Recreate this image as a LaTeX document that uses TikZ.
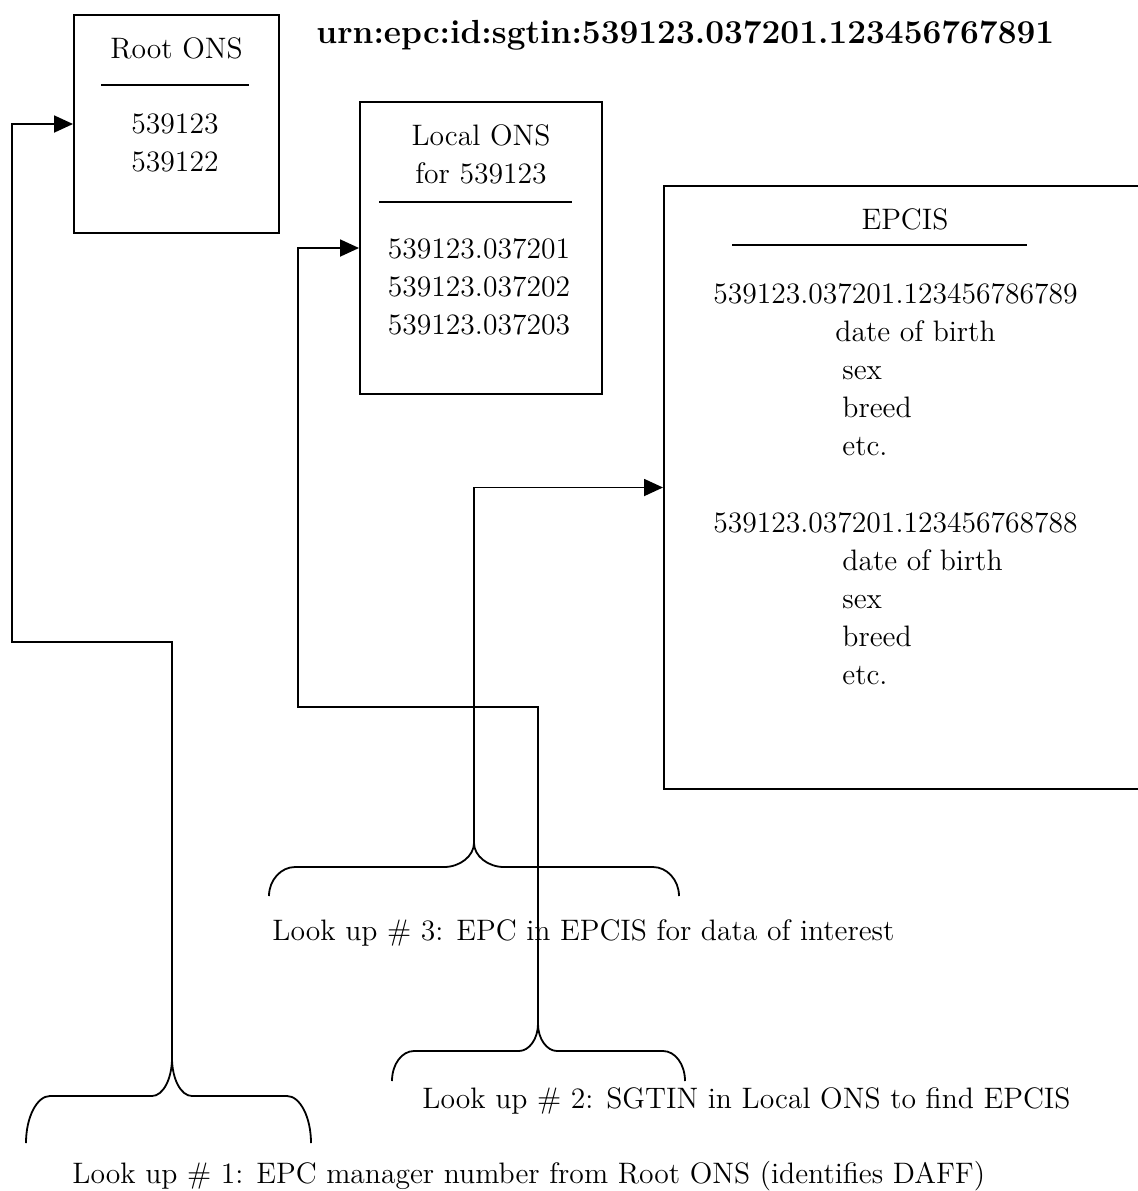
\documentclass[tikz,border=0pt]{standalone}
\usepackage{tikz}
\usetikzlibrary{arrows.meta}
\usetikzlibrary{positioning}
\tikzset{
  >={Triangle[length=9.5pt, width=8.5pt]},
  box/.style = {draw, line width=1pt, anchor=north west, inner sep=0pt},
  link/.style = {->, line width=0.9pt},
  brace/.style = {line width=0.9pt},
  rule/.style = {line width=1pt},
  txt/.style = {font=\fontsize{14.8}{19}\selectfont, inner sep=0pt},
}

\begin{document}
\begin{tikzpicture}[x=0.5pt, y=-0.5pt]
    \clip (0,0) rectangle (1138,1191);
    \node [box, minimum width=102.5pt, minimum height=109pt] (root) at (73,14) {};
    \node [box, minimum width=121pt, minimum height=146pt] (local) at (359,101) {};
    \node [box, minimum width=241pt, minimum height=301.5pt] (epcis) at (663,185) {};

    \node [txt, anchor=north, below=11.4pt of root.north] (roottitle) {Root ONS};
    \node [txt, anchor=north, align=center, below=11.8pt of local.north] (localtitle) {Local ONS\\for 539123};
    \node [txt, anchor=north, below=11.4pt of epcis.north] (epcistitle) {EPCIS};
    \draw [rule] (101,85) -- (249,85);
    \draw [rule] (379,202) -- (572,202);
    \draw [rule] (732,245) -- (1027,245);

    \node [txt, align=center, anchor=north] (rootnums) at (175,113) {539123\\539122};
    \node [txt, align=center, anchor=north] (localnums) at (479,238) {539123.037201\\539123.037202\\539123.037203};
    \node [txt, align=left, anchor=north west] (animalA) at (713,283) {539123.037201.123456786789\\\hspace*{61pt}date of birth\\\hspace*{64.5pt}sex\\\hspace*{64.5pt}breed\\\hspace*{64.5pt}etc.};
    \node [txt, align=left, anchor=north west] (animalB) at (713,512) {539123.037201.123456768788\\\hspace*{64.5pt}date of birth\\\hspace*{64.5pt}sex\\\hspace*{64.5pt}breed\\\hspace*{64.5pt}etc.};

    \node [anchor=base west, inner sep=0pt, font=\bfseries\fontsize{16.7}{20}\selectfont] (urn) at (316,43) {urn:epc:id:sgtin:539123.037201.123456767891};

    \node [txt, anchor=base west] (look3) at (272,940) {Look up \# 3: EPC in EPCIS for data of interest};
    \node [txt, anchor=base west] (look2) at (422,1108) {Look up \# 2: SGTIN in Local ONS to find EPCIS};
    \node [txt, anchor=base west] (look1) at (72,1183) {Look up \# 1: EPC manager number from Root ONS (identifies DAFF)};

    \coordinate (tip1) at (172,1058);
    \coordinate (tip2) at (538,1024);
    \coordinate (tip3) at (474,843);
    \coordinate (turn1) at (12,642);
    \coordinate (turn2) at (298,707);

    \draw [brace] (tip1) .. controls +(0,21) and +(11,0) .. ++(-20,38) -- ++(-102,0) .. controls +(-13,0) and +(0,-26) .. ++(-24,47);
    \draw [brace] (tip1) .. controls +(0,21) and +(-11,0) .. ++(20,38) -- ++(95,0) .. controls +(13,0) and +(0,-26) .. ++(24,47);
    \draw [brace] (tip2) .. controls +(0,15) and +(10,0) .. ++(-19,27) -- ++(-105,0) .. controls +(-12,0) and +(0,-17) .. ++(-22,30);
    \draw [brace] (tip2) .. controls +(0,15) and +(-10,0) .. ++(19,27) -- ++(106,0) .. controls +(12,0) and +(0,-17) .. ++(22,30);
    \draw [brace] (tip3) .. controls +(0,13) and +(16,0) .. ++(-30,24) -- ++(-149,0) .. controls +(-14,0) and +(0,-16) .. ++(-26,29);
    \draw [brace] (tip3) .. controls +(0,13) and +(-16,0) .. ++(30,24) -- ++(149,0) .. controls +(14,0) and +(0,-16) .. ++(26,29);

    \draw [link] (tip1) |- (turn1) |- (root.west);
    \draw [link] (tip2) |- (turn2) |- (local.west);
    \draw [link] (tip3) |- (epcis.west);
\end{tikzpicture}
\end{document}
